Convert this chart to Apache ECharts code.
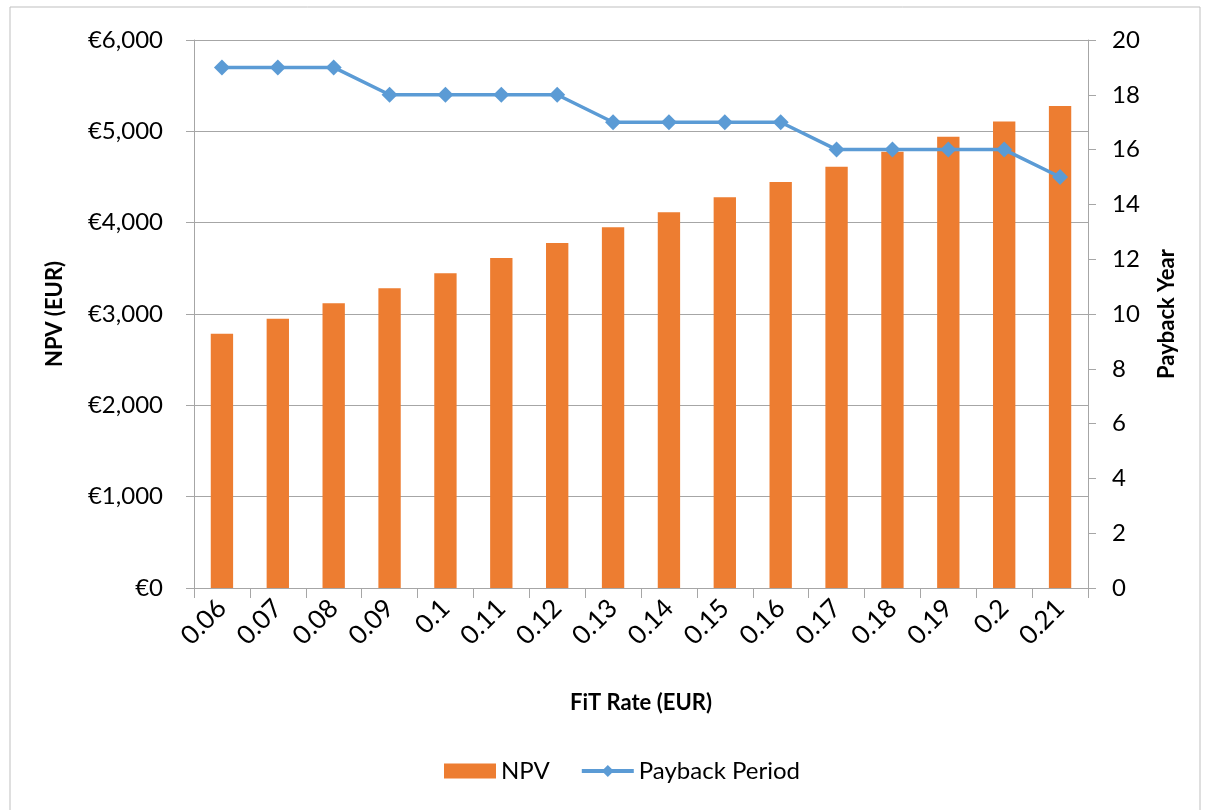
<!DOCTYPE html>
<html>
<head>
<meta charset="utf-8">
<script src="https://cdn.jsdelivr.net/npm/echarts@6/dist/echarts.min.js"></script>
<style>html,body{margin:0;padding:0;background:#fff}#c{width:1206px;height:810px}</style>
</head>
<body>
<div id="c"></div>
<script>
const categories = ['0.06','0.07','0.08','0.09','0.1','0.11','0.12','0.13','0.14','0.15','0.16','0.17','0.18','0.19','0.2','0.21'];
const npv = [2785, 2949, 3117, 3281, 3446, 3613, 3777, 3949, 4113, 4278, 4445, 4613, 4777, 4941, 5109, 5277];
const payback = [19, 19, 19, 18, 18, 18, 18, 17, 17, 17, 17, 16, 16, 16, 16, 15];

const FONT = 'Lato, "Open Sans", sans-serif';
const GRAY = '#A6A6A6';
const chart = echarts.init(document.getElementById('c'));
chart.setOption({
  animation: false,
  graphic: [{
    type: 'rect', shape: {x: 10, y: 7, width: 1190, height: 810},
    style: {fill: 'none', stroke: '#BFBFBF', lineWidth: 1}, silent: true
  }],
  grid: {left: 194, right: 118, top: 40, bottom: 222, containLabel: false},
  legend: {
    bottom: 22, left: 439, itemWidth: 52, itemHeight: 15, itemGap: 30,
    textStyle: {fontFamily: FONT, fontSize: 24, color: '#000'},
    data: [{name: 'NPV', icon: 'rect'},
           {name: 'Payback Period', lineStyle: {width: 4, color: '#5B9BD5'}}]
  },
  xAxis: {
    type: 'category', data: categories, boundaryGap: true,
    name: 'FiT Rate (EUR)', nameLocation: 'middle', nameGap: 104,
    nameTextStyle: {fontFamily: FONT, fontSize: 22, fontWeight: 'bold', color: '#000'},
    axisLine: {lineStyle: {color: GRAY, width: 1}},
    axisTick: {show: true, length: 10, lineStyle: {color: GRAY}, alignWithLabel: false},
    axisLabel: {rotate: 45, fontFamily: FONT, fontSize: 26, color: '#000', margin: 16}
  },
  yAxis: [{
    type: 'value', min: 0, max: 6000, interval: 1000,
    name: 'NPV (EUR)', nameLocation: 'middle', nameGap: 128, nameRotate: 90,
    nameTextStyle: {fontFamily: FONT, fontSize: 22, fontWeight: 'bold', color: '#000'},
    axisLine: {show: true, lineStyle: {color: GRAY}},
    axisTick: {show: true, length: 8, lineStyle: {color: GRAY}},
    splitLine: {show: true, lineStyle: {color: GRAY, width: 1}},
    axisLabel: {fontFamily: FONT, fontSize: 24, color: '#000', margin: 31,
      formatter: v => '€' + v.toLocaleString('en-US')}
  }, {
    type: 'value', min: 0, max: 20, interval: 2, position: 'right',
    name: 'Payback Year', nameLocation: 'middle', nameGap: 68, nameRotate: 90,
    nameTextStyle: {fontFamily: FONT, fontSize: 22, fontWeight: 'bold', color: '#000'},
    axisLine: {show: true, lineStyle: {color: GRAY}},
    axisTick: {show: true, length: 8, lineStyle: {color: GRAY}},
    splitLine: {show: false},
    axisLabel: {fontFamily: FONT, fontSize: 24, color: '#000', margin: 24}
  }],
  series: [{
    name: 'NPV', type: 'bar', data: npv, yAxisIndex: 0, barWidth: '40%',
    itemStyle: {color: '#ED7D31'}
  }, {
    name: 'Payback Period', type: 'line', data: payback, yAxisIndex: 1,
    symbol: 'diamond', symbolSize: 16, showSymbol: true,
    lineStyle: {color: '#5B9BD5', width: 3.5},
    itemStyle: {color: '#5B9BD5'}
  }]
});
</script>
</body>
</html>
